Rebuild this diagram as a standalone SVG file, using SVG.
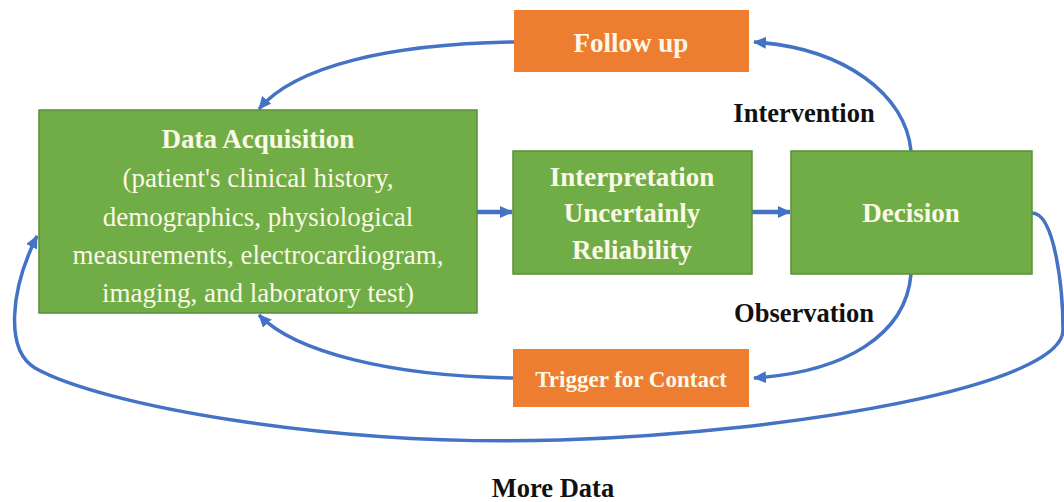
<svg xmlns="http://www.w3.org/2000/svg" width="1064" height="502" viewBox="0 0 1064 502">
<style>
.green{fill:#70ad47;stroke:#5b8f36;stroke-width:1.5}
.orange{fill:#ed7d31}
.t{font-family:"Liberation Serif","Times New Roman",serif;font-size:27px;fill:#fbf8e6;text-anchor:middle}
.b{font-weight:bold}
.lbl{font-family:"Liberation Serif","Times New Roman",serif;font-size:26.5px;font-weight:bold;fill:#111;text-anchor:middle}
.c{fill:none;stroke:#4472c4;stroke-width:3.5;marker-end:url(#ah)}
.s{stroke-width:4.5}
</style>
<defs>
<marker id="ah" markerUnits="userSpaceOnUse" markerWidth="14" markerHeight="12" refX="12" refY="6" orient="auto">
<path d="M0,0 L13,6 L0,12 z" fill="#4472c4"/>
</marker>
</defs>
<g id="connectors">
<path class="c s" d="M477,212 L512,212"/>
<path class="c s" d="M752,212 L790,212"/>
<path class="c" d="M911,151 C906,95 845,48 754,42"/>
<path class="c" d="M514,42 C390,44 295,66 259,109"/>
<path class="c" d="M911,274 C906,335 845,372 754,378"/>
<path class="c" d="M513,378 C390,376 295,352 259,315"/>
<path class="c" d="M1032,213 C1055,213 1063,290 1063,330 C1063,385 800,432 560,440 C330,447 100,405 35,368 C5,350 10,290 37,236"/>
</g>
<g id="data-acquisition">
<rect class="green" x="39" y="110" width="438" height="203"/>
<text class="t b" x="258" y="148">Data Acquisition</text>
<text class="t" x="258" y="187">(patient's clinical history,</text>
<text class="t" x="258" y="226">demographics, physiological</text>
<text class="t" x="258" y="264">measurements, electrocardiogram,</text>
<text class="t" x="258" y="302">imaging, and laboratory test)</text>
</g>
<g id="interpretation">
<rect class="green" x="513" y="151" width="239" height="123"/>
<text class="t b" x="632" y="186">Interpretation</text>
<text class="t b" x="632" y="222">Uncertainly</text>
<text class="t b" x="632" y="259">Reliability</text>
</g>
<g id="decision">
<rect class="green" x="791" y="151" width="241" height="123"/>
<text class="t b" x="911" y="222">Decision</text>
</g>
<g id="follow-up">
<rect class="orange" x="514" y="10" width="235" height="62"/>
<text class="t b" x="631" y="52">Follow up</text>
</g>
<g id="trigger">
<rect class="orange" x="513" y="349" width="236" height="58"/>
<text class="t b" x="631" y="387" style="font-size:23px">Trigger for Contact</text>
</g>
<g id="labels">
<text class="lbl" x="804" y="122">Intervention</text>
<text class="lbl" x="804" y="322">Observation</text>
<text class="lbl" x="553" y="497">More Data</text>
</g>
</svg>
